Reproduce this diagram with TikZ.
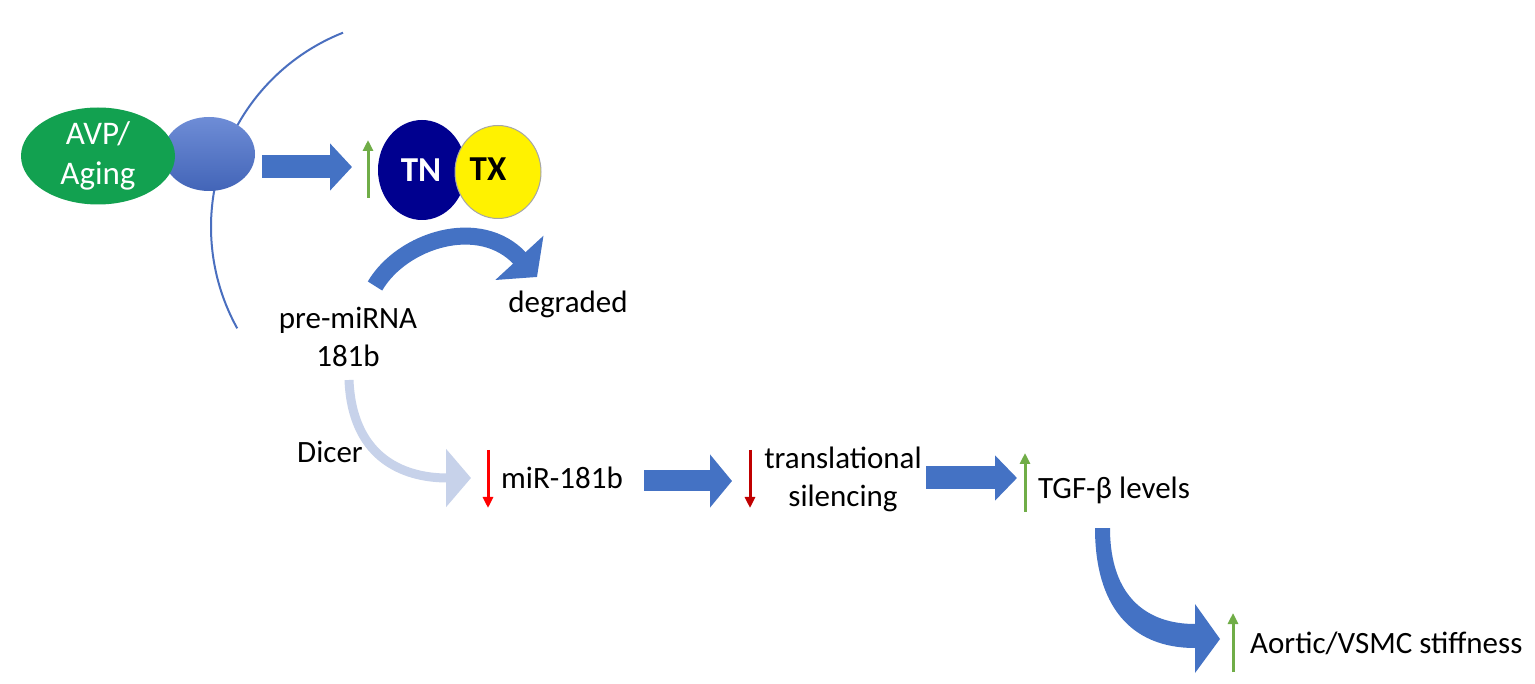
\documentclass[tikz,border=0pt]{standalone}
\usepackage{fontspec}
\setmainfont{Carlito}
\usetikzlibrary{arrows.meta,shapes.geometric}
\definecolor{oblue}{HTML}{4472C4}
\definecolor{memb}{HTML}{4A6FBF}
\definecolor{recblue}{HTML}{4A70CC}
\definecolor{agreen}{HTML}{12A150}
\definecolor{upgreen}{HTML}{70AD47}
\definecolor{navy}{HTML}{00008F}
\definecolor{dicer}{HTML}{C7D2EA}
\definecolor{dred}{HTML}{C00000}
\tikzset{
  txt/.style={font=\fontsize{31}{38}\selectfont, inner sep=0pt, align=center},
  updown/.style={line width=3pt, -{Triangle[width=10pt,length=11pt]}},
}
\begin{document}
\begin{tikzpicture}[x=1pt,y=-1pt]
\useasboundingbox[fill=white] (0,0) rectangle (1535,684);

% membrane (arc of a circle)
\draw[memb, line width=2pt] plot[domain=-111.6:-209, samples=80, smooth] ({420+209*cos(\x)},{227+209*sin(\x)});

% receptor and ligand
\node[ellipse, minimum width=92pt, minimum height=74pt, inner sep=0pt,
      top color=recblue!80!white, bottom color=recblue!90!black, draw=none] (rec) at (209,154) {};
\node[ellipse, minimum width=154pt, minimum height=90pt, inner sep=0pt,
      fill=agreen, text=white, font=\fontsize{33}{40}\selectfont, align=center] (avp) at (98,156) {AVP/\\Aging};

% arrow to TN/TX
\coordinate (a1s) at (262,167);
\coordinate (a1e) at (352,167);
\draw[draw=oblue, line width=23pt, -{Triangle[width=46pt,length=22pt]}] (a1s) -- (a1e);

\coordinate (g1s) at (368,198);
\coordinate (g1e) at (368,140);
\draw[upgreen, updown] (g1s) -- (g1e);

\node[ellipse, minimum width=88pt, minimum height=100pt, inner sep=0pt, fill=navy] (tn) at (422,170) {};
\node[ellipse, minimum width=86pt, minimum height=93pt, inner sep=0pt, fill=yellow, draw=gray!70, line width=1pt] (tx) at (498,172) {};
\node[txt, text=white, font=\fontsize{35}{40}\selectfont\bfseries] (tnt) at (421,170) {TN};
\node[txt, text=black, font=\fontsize{35}{40}\selectfont\bfseries] (txt) at (488,169) {TX};

% degradation arc
\coordinate (d1) at (375,286);
\coordinate (d2) at (537,277);
\draw[draw=oblue, line width=17pt, -{Triangle[width=64pt,length=26pt]}] (d1) .. controls (402,240) and (480,215) .. (d2);

\node[txt] (pre) at (348,337) {pre-miRNA\\181b};
\node[txt] (deg) at (568,304) {degraded};

% Dicer arrow
\coordinate (c1) at (349,380);
\coordinate (c2) at (471,478);
\draw[draw=dicer, line width=9pt, -{Triangle[width=57pt,length=25pt]}] (c1) .. controls (352,455) and (400,478) .. (c2);
\node[txt] (dicertxt) at (330,452) {Dicer};

% miR-181b
\coordinate (r1s) at (488,450);
\coordinate (r1e) at (488,508);
\draw[red, updown] (r1s) -- (r1e);
\node[txt, anchor=west] (mir) at (501,478) {miR-181b};

\coordinate (a2s) at (644,481);
\coordinate (a2e) at (732,481);
\draw[draw=oblue, line width=21pt, -{Triangle[width=52pt,length=22pt]}] (a2s) -- (a2e);

\coordinate (r2s) at (750,450);
\coordinate (r2e) at (750,508);
\draw[dred, updown] (r2s) -- (r2e);
\node[txt] (trans) at (843,479) {translational\\silencing};

\coordinate (a3s) at (926,478);
\coordinate (a3e) at (1017,478);
\draw[draw=oblue, line width=23pt, -{Triangle[width=44pt,length=22pt]}] (a3s) -- (a3e);

\coordinate (g2s) at (1025,512);
\coordinate (g2e) at (1025,453);
\draw[upgreen, updown] (g2s) -- (g2e);
\node[txt, anchor=west] (tgf) at (1038,490) {TGF-β levels};

% curved tapered arrow to stiffness
\coordinate (e1l) at (1095,528);
\coordinate (e1r) at (1110,528);
\coordinate (e2o) at (1195,648);
\coordinate (e2i) at (1195,624);
\coordinate (hb) at (1195,673);
\coordinate (ht) at (1195,604);
\coordinate (tip) at (1220,639);
\fill[oblue] (e1l) .. controls (1095,605) and (1130,648) .. (e2o) -- (hb) -- (tip) -- (ht) -- (e2i)
   .. controls (1148,624) and (1110,598) .. (e1r) -- cycle;

\coordinate (g3s) at (1233,672);
\coordinate (g3e) at (1233,613);
\draw[upgreen, updown] (g3s) -- (g3e);
\node[txt, anchor=west] (aort) at (1250,643) {Aortic/VSMC stiffness};
\end{tikzpicture}
\end{document}
